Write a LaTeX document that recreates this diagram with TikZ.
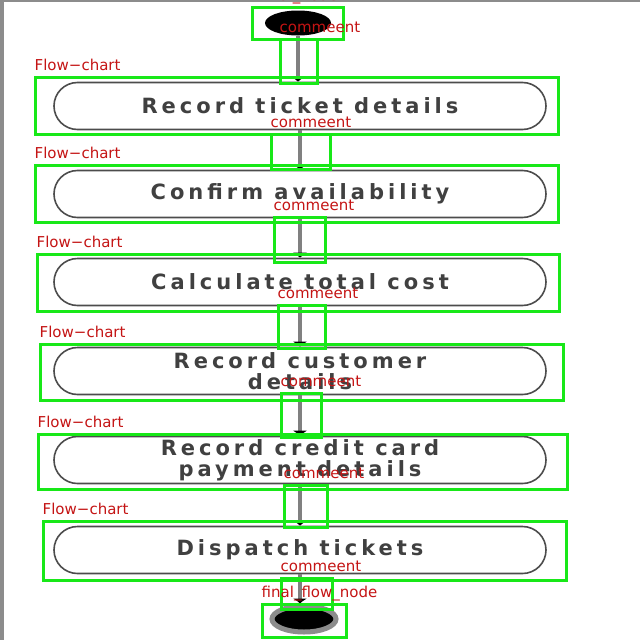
\documentclass[tikz,border=0pt]{standalone}
\usepackage{fontspec}
\setmainfont{DejaVu Sans}
\newfontfamily\chartfont[LetterSpace=19]{DejaVu Sans}
\usetikzlibrary{arrows.meta,shapes.misc,shapes.geometric,fit,positioning}
\definecolor{boxgreen}{RGB}{24,232,24}
\definecolor{tagred}{RGB}{196,20,20}
\tikzset{>={Latex[width=12pt,length=5pt]}}
\tikzset{
  flowstep/.style={rounded rectangle, draw=black!70, line width=1.6pt,
    minimum width=492pt, minimum height=47pt, inner sep=0pt, align=center,
    text=black!75, font=\chartfont\bfseries\fontsize{21}{21}\selectfont},
  annot/.style={draw=boxgreen, line width=3pt, inner sep=0pt},
  tag/.style={text=tagred, font=\fontsize{15}{15}\selectfont, inner sep=0pt, anchor=base west},
  flowline/.style={draw=black!50, line width=4.5pt, -{Latex[black,width=15pt,length=5pt]}}
}

\begin{document}
\begin{tikzpicture}[x=1pt, y=-1pt]

  \newcommand\markbox[6]{%
    \node[annot, fit={(#2,#3) (#4,#5)}] (#1) {};
    \node[tag] (#1tag) at ([xshift=1pt, yshift=5pt]#1.north west) {#6};}

  \useasboundingbox (0,0) rectangle (640,640);
  %% <frame edges>
  \fill[black!45] (0,0) rectangle (4,640);
  \fill[black!45] (0,0) rectangle (640,1.5);
  % </frame edges>

  \node[ellipse, fill=black, minimum width=66pt, minimum height=25pt] (start) at (298,23) {};

  \node[flowstep] (ticket)   at (300,106) {Record ticket details};
  \node[flowstep] (avail)    at (300,194) {Confirm availability};
  \node[flowstep] (cost)     at (300,282) {Calculate total cost};
  \node[flowstep] (customer) at (300,371) {Record customer\\details};
  \node[flowstep] (payment)  at (300,460) {Record credit card\\payment details};
  \node[flowstep] (dispatch) at (300,550) {Dispatch tickets};

  \node[ellipse, fill=black, draw=black!45, line width=5pt, minimum width=64pt, minimum height=26pt] (final) at (304,619) {};

  \draw[flowline] (start.south)    -- (start.south |- ticket.north);
  \draw[flowline] (ticket.south)   -- (avail.north);
  \draw[flowline] (avail.south)    -- (cost.north);
  \draw[flowline] (cost.south)     -- (customer.north);
  \draw[flowline] (customer.south) -- (payment.north);
  \draw[flowline] (payment.south)  -- (dispatch.north);
  \draw[flowline] (dispatch.south) -- (dispatch.south |- final.north);

  %% annotation boxes
  \markbox{sb}{252}{7}{343}{39}{initial\_node}
  \markbox{cb1}{280}{39}{317}{83}{commeent}
  \markbox{fb1}{35}{77}{558}{134}{Flow−chart}
  \markbox{cb2}{271}{134}{330}{169}{commeent}
  \markbox{fb2}{35}{165}{558}{222}{Flow−chart}
  \markbox{cb3}{274}{217}{325}{262}{commeent}
  \markbox{fb3}{37}{254}{559}{311}{Flow−chart}
  \markbox{cb4}{278}{305}{325}{348}{commeent}
  \markbox{fb4}{40}{344}{563}{400}{Flow−chart}
  \markbox{cb5}{281}{393}{321}{437}{commeent}
  \markbox{fb5}{38}{434}{567}{489}{Flow−chart}
  \markbox{cb6}{284}{485}{327}{527}{commeent}
  \markbox{fb6}{43}{521}{566}{580}{Flow−chart}
  \markbox{cb7}{281}{578}{332}{609}{commeent}
  \markbox{eb}{262}{604}{346}{637}{final\_flow\_node}

\end{tikzpicture}
\end{document}
